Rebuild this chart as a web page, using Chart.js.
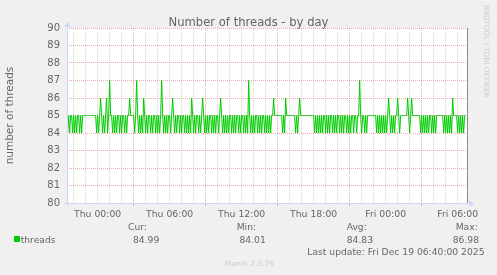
<!DOCTYPE html>
<html>
<head>
<meta charset="utf-8">
<script src="https://cdn.jsdelivr.net/npm/chart.js@4.4.1/dist/chart.umd.min.js"></script>
<style>
  html, body { margin: 0; padding: 0; background: #f0f0f0; }
  #wrap { position: relative; width: 497px; height: 275px; overflow: hidden;
          font-family: "DejaVu Sans", sans-serif; color: #666; }
  #wrap canvas { position: absolute; left: 0; top: 0; }
  .t { position: absolute; white-space: nowrap; line-height: 1; }
</style>
</head>
<body>
<div id="wrap">
  <canvas id="threadsChart" width="497" height="275"></canvas>
  <div class="t" style="left:0;width:497px;text-align:center;top:16.5px;font-size:11.6px;">Number of threads - by day</div>
  <div class="t" style="left:483px;top:5px;font-size:7.2px;color:#cccccc;writing-mode:vertical-rl;">RRDTOOL / TOBI OETIKER</div>
  <div style="position:absolute;left:14px;top:236px;width:6px;height:6px;background:#00cc00;"></div>
  <div class="t" style="left:20.7px;top:234.7px;font-size:9.2px;">threads</div>
  <div class="t" style="left:128px;top:222.2px;font-size:9.2px;">Cur:</div>
  <div class="t" style="left:133px;top:234.7px;font-size:9.2px;">84.99</div>
  <div class="t" style="left:236.7px;top:222.2px;font-size:9.2px;">Min:</div>
  <div class="t" style="left:239.5px;top:234.7px;font-size:9.2px;">84.01</div>
  <div class="t" style="left:346.7px;top:222.2px;font-size:9.2px;">Avg:</div>
  <div class="t" style="left:346.7px;top:234.7px;font-size:9.2px;">84.83</div>
  <div class="t" style="left:455.7px;top:222.2px;font-size:9.2px;">Max:</div>
  <div class="t" style="left:452.7px;top:234.7px;font-size:9.2px;">86.98</div>
  <div class="t" style="left:307.3px;top:247.2px;font-size:9.2px;">Last update: Fri Dec 19 06:40:00 2025</div>
  <div class="t" style="left:225px;top:259.7px;font-size:7.5px;color:#cccccc;">Munin 2.0.76</div>
</div>
<script>
// threads, one value per 5 minute sample (hours are counted from Thu 00:00)
const firstSampleHour = -2.583;
const sampleStepHours = 5 / 60;
const threadValues = [
  85,84,85,84,85,85,84,85,84,85,84,85,85,84,85,84,85,85,85,85,
  85,85,85,85,85,85,85,85,85,85,84,85,84,85,86,85,84,85,84,85,
  86,84,85,87,85,85,84,85,84,85,84,85,85,84,85,84,85,85,84,85,
  84,85,85,86,85,85,85,85,84,85,87,85,84,85,84,85,84,86,85,84,
  85,84,85,85,84,85,84,85,85,84,85,84,85,84,85,87,85,84,85,84,
  85,84,85,85,84,85,86,85,84,85,84,85,85,84,85,84,85,85,84,85,
  84,85,84,85,84,86,85,84,85,84,85,85,84,85,84,85,86,85,84,85,
  84,85,84,85,85,84,85,84,85,84,85,85,84,85,86,85,84,85,84,85,
  84,85,84,85,85,84,85,84,85,84,85,85,84,85,84,85,85,84,85,84,
  85,84,87,85,84,85,84,85,84,85,85,84,85,84,85,84,85,85,84,85,
  84,85,84,85,84,85,85,86,85,85,85,85,85,85,85,85,84,85,84,86,
  85,85,85,85,85,85,85,85,85,84,85,84,85,86,85,85,85,85,85,85,
  85,85,85,85,85,85,85,85,84,85,84,85,84,85,84,85,84,85,85,84,
  85,84,85,84,85,85,84,85,84,85,84,85,85,84,85,84,85,84,85,85,
  84,85,84,85,84,85,85,84,85,85,84,85,85,87,85,84,85,85,84,85,
  84,85,85,85,85,85,85,85,85,85,84,85,84,85,84,85,84,85,84,85,
  84,85,86,85,84,85,84,85,84,85,85,86,85,84,85,85,85,85,85,85,
  85,86,85,84,85,86,85,85,85,85,85,85,85,85,84,85,84,85,84,85,
  84,85,84,85,85,84,85,84,85,84,85,85,85,85,85,85,85,84,85,84,
  85,84,85,84,85,84,86,85,85,85,85,84,85,84,85,84,85,84,85,85
];
const xTickHours = [0, 6, 12, 18, 24, 30];
const xTickLabels = ['Thu 00:00', 'Thu 06:00', 'Thu 12:00', 'Thu 18:00', 'Fri 00:00', 'Fri 06:00'];
const xMinHour = -2.553;
const xMaxHour = 30.78;
const yMin = 80;
const yMax = 90;

const majorGrid = 'rgba(225,100,100,0.55)';
const minorGrid = 'rgba(160,160,160,0.45)';
const axisColor = '#cfd6f8';

const plotDecor = {
  id: 'plotDecor',
  beforeDraw(chart) {
    const { ctx, chartArea: a } = chart;
    ctx.save();
    ctx.fillStyle = '#ffffff';
    ctx.fillRect(a.left, a.top, a.right - a.left, a.bottom - a.top);
    ctx.restore();
  },
  afterDraw(chart) {
    const { ctx, chartArea: a } = chart;
    ctx.save();
    // right frame
    ctx.strokeStyle = '#8c8c8c';
    ctx.lineWidth = 1;
    ctx.beginPath();
    ctx.moveTo(a.right + 0.5, a.top);
    ctx.lineTo(a.right + 0.5, a.bottom);
    ctx.stroke();
    // axis lines with arrows
    ctx.strokeStyle = axisColor;
    ctx.fillStyle = axisColor;
    ctx.beginPath();
    ctx.moveTo(a.left + 0.5, a.top - 4);
    ctx.lineTo(a.left + 0.5, a.bottom + 3);
    ctx.moveTo(a.left - 3, a.bottom + 0.5);
    ctx.lineTo(a.right + 4, a.bottom + 0.5);
    ctx.stroke();
    ctx.beginPath();
    ctx.moveTo(a.left + 0.5, a.top - 7);
    ctx.lineTo(a.left - 2.5, a.top - 1);
    ctx.lineTo(a.left + 3.5, a.top - 1);
    ctx.closePath();
    ctx.fill();
    ctx.beginPath();
    ctx.moveTo(a.right + 8, a.bottom + 0.5);
    ctx.lineTo(a.right + 2, a.bottom - 2.5);
    ctx.lineTo(a.right + 2, a.bottom + 3.5);
    ctx.closePath();
    ctx.fill();
    ctx.restore();
  }
};

function isMajorHour(v) {
  return ((v % 6) + 6) % 6 === 3;
}

function initChart() {
  const points = threadValues.map((v, i) => ({ x: firstSampleHour + i * sampleStepHours, y: v }));
  new Chart(document.getElementById('threadsChart'), {
    type: 'line',
    data: {
      datasets: [{
        label: 'threads',
        data: points,
        borderColor: '#00cc00',
        borderWidth: 1,
        pointRadius: 0,
        tension: 0,
        fill: false
      }]
    },
    options: {
      responsive: false,
      animation: false,
      events: [],
      layout: { padding: { top: 28, right: 30, left: 0, bottom: 0 } },
      plugins: { legend: { display: false }, title: { display: false }, tooltip: { enabled: false } },
      scales: {
        x: {
          type: 'linear',
          min: xMinHour,
          max: xMaxHour,
          afterFit(scale) { scale.height = 72; },
          border: { display: false, dash: [1, 1] },
          grid: {
            color: ctx => isMajorHour(ctx.tick.value) ? majorGrid : minorGrid,
            lineWidth: 1,
            drawTicks: true,
            tickLength: 3,
            tickColor: ctx => isMajorHour(ctx.tick.value) ? majorGrid : 'rgba(0,0,0,0)'
          },
          ticks: {
            stepSize: 1,
            includeBounds: false,
            autoSkip: false,
            maxRotation: 0,
            padding: 3,
            color: '#666666',
            font: { family: 'DejaVu Sans', size: 9.3 },
            callback: v => {
              const k = xTickHours.indexOf(v);
              return k >= 0 ? xTickLabels[k] : '';
            }
          }
        },
        y: {
          min: yMin,
          max: yMax,
          afterFit(scale) { scale.width = 67; },
          border: { display: false, dash: [1, 1] },
          grid: {
            color: ctx => Number.isInteger(ctx.tick.value) ? majorGrid : minorGrid,
            lineWidth: 1,
            drawTicks: false
          },
          ticks: {
            stepSize: 0.5,
            padding: 7,
            color: '#666666',
            font: { family: 'DejaVu Sans', size: 10 },
            callback: v => Number.isInteger(v) ? String(v) : ''
          },
          title: {
            display: true,
            text: 'number of threads',
            color: '#666666',
            padding: { top: 4, bottom: 0 },
            font: { family: 'DejaVu Sans', size: 10.5 }
          }
        }
      }
    },
    plugins: [plotDecor]
  });
}

document.addEventListener('DOMContentLoaded', initChart);
</script>
</body>
</html>
